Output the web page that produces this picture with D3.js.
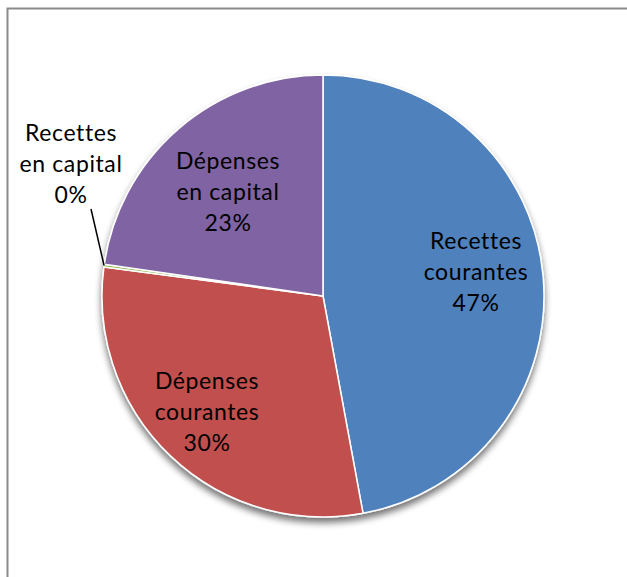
<!DOCTYPE html>
<html>
<head>
<meta charset="utf-8">
<script src="https://cdn.jsdelivr.net/npm/d3@7"></script>
<style>
  body { margin: 0; background: #fff; }
  svg { display: block; }
  text { font-family: Lato, "Open Sans", sans-serif; font-size: 23px; letter-spacing: 0.6px; fill: #000; }
</style>
</head>
<body>
<div id="chart"></div>
<script>
// slices, clockwise from 12 o'clock
var categories = ["Recettes courantes", "Dépenses courantes", "Recettes en capital", "Dépenses en capital"];
var labelLines = [["Recettes", "courantes"], ["Dépenses", "courantes"], ["Recettes", "en capital"], ["Dépenses", "en capital"]];
var values = [47.1, 30.0, 0.2, 22.7];
var colors = ["#4F81BD", "#C0504D", "#9BBB59", "#8064A2"];

var width = 627, height = 577;
var cx = 323, cy = 296, r = 221;

// where each label block sits (middle line baseline), relative to pie centre
var labelPos = [[153, -16], [-116, 124], [-252, -124], [-95, -96]];

var svg = d3.select("#chart").append("svg")
    .attr("width", width)
    .attr("height", height);

// chart frame (runs off the right and bottom edges)
svg.append("rect")
    .attr("x", 7.5).attr("y", 8.5)
    .attr("width", 700).attr("height", 700)
    .attr("fill", "none")
    .attr("stroke", "#8a8a8a")
    .attr("stroke-width", 2);

var defs = svg.append("defs");
var shadow = defs.append("filter").attr("id", "shadow")
    .attr("x", "-20%").attr("y", "-20%").attr("width", "140%").attr("height", "140%");
shadow.append("feGaussianBlur").attr("in", "SourceAlpha").attr("stdDeviation", 3.5);
shadow.append("feOffset").attr("dx", 0).attr("dy", 5).attr("result", "blur");
shadow.append("feComponentTransfer").append("feFuncA").attr("type", "linear").attr("slope", 0.55);
var merge = shadow.append("feMerge");
merge.append("feMergeNode");
merge.append("feMergeNode").attr("in", "SourceGraphic");

var pie = d3.pie().sort(null).value(function(d) { return d; });
var arc = d3.arc().innerRadius(0).outerRadius(r);
var arcs = pie(values);

var g = svg.append("g").attr("transform", "translate(" + cx + "," + cy + ")");

g.append("g").attr("filter", "url(#shadow)")
  .selectAll("path")
  .data(arcs)
  .enter()
  .append("path")
    .attr("d", arc)
    .attr("fill", function(d, i) { return colors[i]; })
    .attr("stroke", "#fff")
    .attr("stroke-width", 1.5)
    .attr("stroke-linejoin", "round");

var total = d3.sum(values);
var pct = function(v) { return Math.round(v / total * 100) + "%"; };

// leader line for the tiny slice
var tiny = arcs[2];
var mid = (tiny.startAngle + tiny.endAngle) / 2;
var edge = [Math.sin(mid) * r, -Math.cos(mid) * r];
g.append("line")
    .attr("x1", labelPos[2][0] + 20).attr("y1", labelPos[2][1] + 37)
    .attr("x2", edge[0]).attr("y2", edge[1])
    .attr("stroke", "#000")
    .attr("stroke-width", 1.5);

var labels = g.selectAll("text.lbl")
    .data(arcs)
    .enter()
    .append("text")
    .attr("class", "lbl")
    .attr("text-anchor", "middle")
    .attr("x", function(d, i) { return labelPos[i][0]; })
    .attr("y", function(d, i) { return labelPos[i][1]; });

labels.each(function(d, i) {
  var t = d3.select(this);
  var lines = labelLines[i].concat([pct(d.value)]);
  lines.forEach(function(s, k) {
    t.append("tspan")
      .attr("x", labelPos[i][0])
      .attr("y", labelPos[i][1] + (k - 1) * 31)
      .text(s);
  });
});
</script>
</body>
</html>
